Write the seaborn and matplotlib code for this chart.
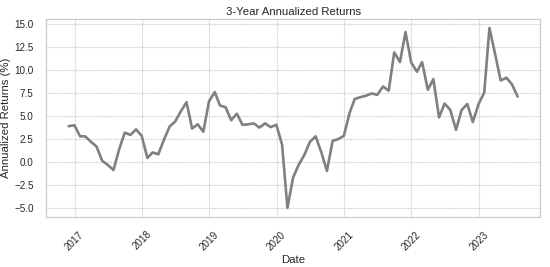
import numpy as np
import pandas as pd
import matplotlib
matplotlib.use("Agg")
import matplotlib.pyplot as plt
import matplotlib.dates as mdates
import seaborn as sns

start_month = "2016-11-30"
returns = [
    3.9, 4.0,
    2.8, 2.8, 2.2, 1.7, 0.15, -0.3, -0.85, 1.4, 3.2, 2.95, 3.55, 2.85,
    0.45, 1.05, 0.85, 2.4, 3.85, 4.4, 5.5, 6.5, 3.65, 4.1, 3.3, 6.6,
    7.6, 6.15, 5.95, 4.55, 5.25, 4.05, 4.1, 4.2, 3.75, 4.2, 3.8, 4.05,
    1.9, -4.95, -1.65, -0.3, 0.8, 2.2, 2.8, 1.05, -0.95, 2.3, 2.5, 2.85,
    5.35, 6.85, 7.05, 7.2, 7.45, 7.3, 8.2, 7.75, 11.9, 10.85, 14.1, 10.8,
    9.8, 10.85, 7.85, 9.0, 4.85, 6.35, 5.65, 3.5, 5.65, 6.3, 4.35, 6.3,
    7.55, 14.55, 11.7, 8.85, 9.15, 8.45, 7.1,
]
dates = pd.date_range(start_month, periods=len(returns), freq="ME")
df = pd.DataFrame({"Date": dates, "Return": returns})

sns.set_theme(style="whitegrid")
plt.rcParams["font.family"] = ["Liberation Sans", "DejaVu Sans"]

fig = plt.figure(figsize=(5.5, 2.67), dpi=100)
ax = fig.add_axes([0.084, 0.188, 0.898, 0.741])
sns.lineplot(data=df, x="Date", y="Return", color="gray", linewidth=1.9, ax=ax)

ax.set_title("3-Year Annualized Returns", fontsize=8.2, pad=3)
ax.set_xlabel("Date", fontsize=8.2, labelpad=2)
ax.set_ylabel("Annualized Returns (%)", fontsize=8.2, labelpad=2)
ax.xaxis.set_major_locator(mdates.YearLocator())
ax.xaxis.set_major_formatter(mdates.DateFormatter("%Y"))
ax.set_yticks(np.arange(-5, 15.1, 2.5))
ax.tick_params(axis="both", labelsize=7.1, pad=3)
plt.setp(ax.get_xticklabels(), rotation=45)
ax.grid(True, linestyle=(0, (2, 0.6)), linewidth=0.8, color="#d9d9d9")
for s in ax.spines.values():
    s.set_color("#cccccc")
    s.set_linewidth(0.9)

fig.savefig("out.png", dpi=100)
